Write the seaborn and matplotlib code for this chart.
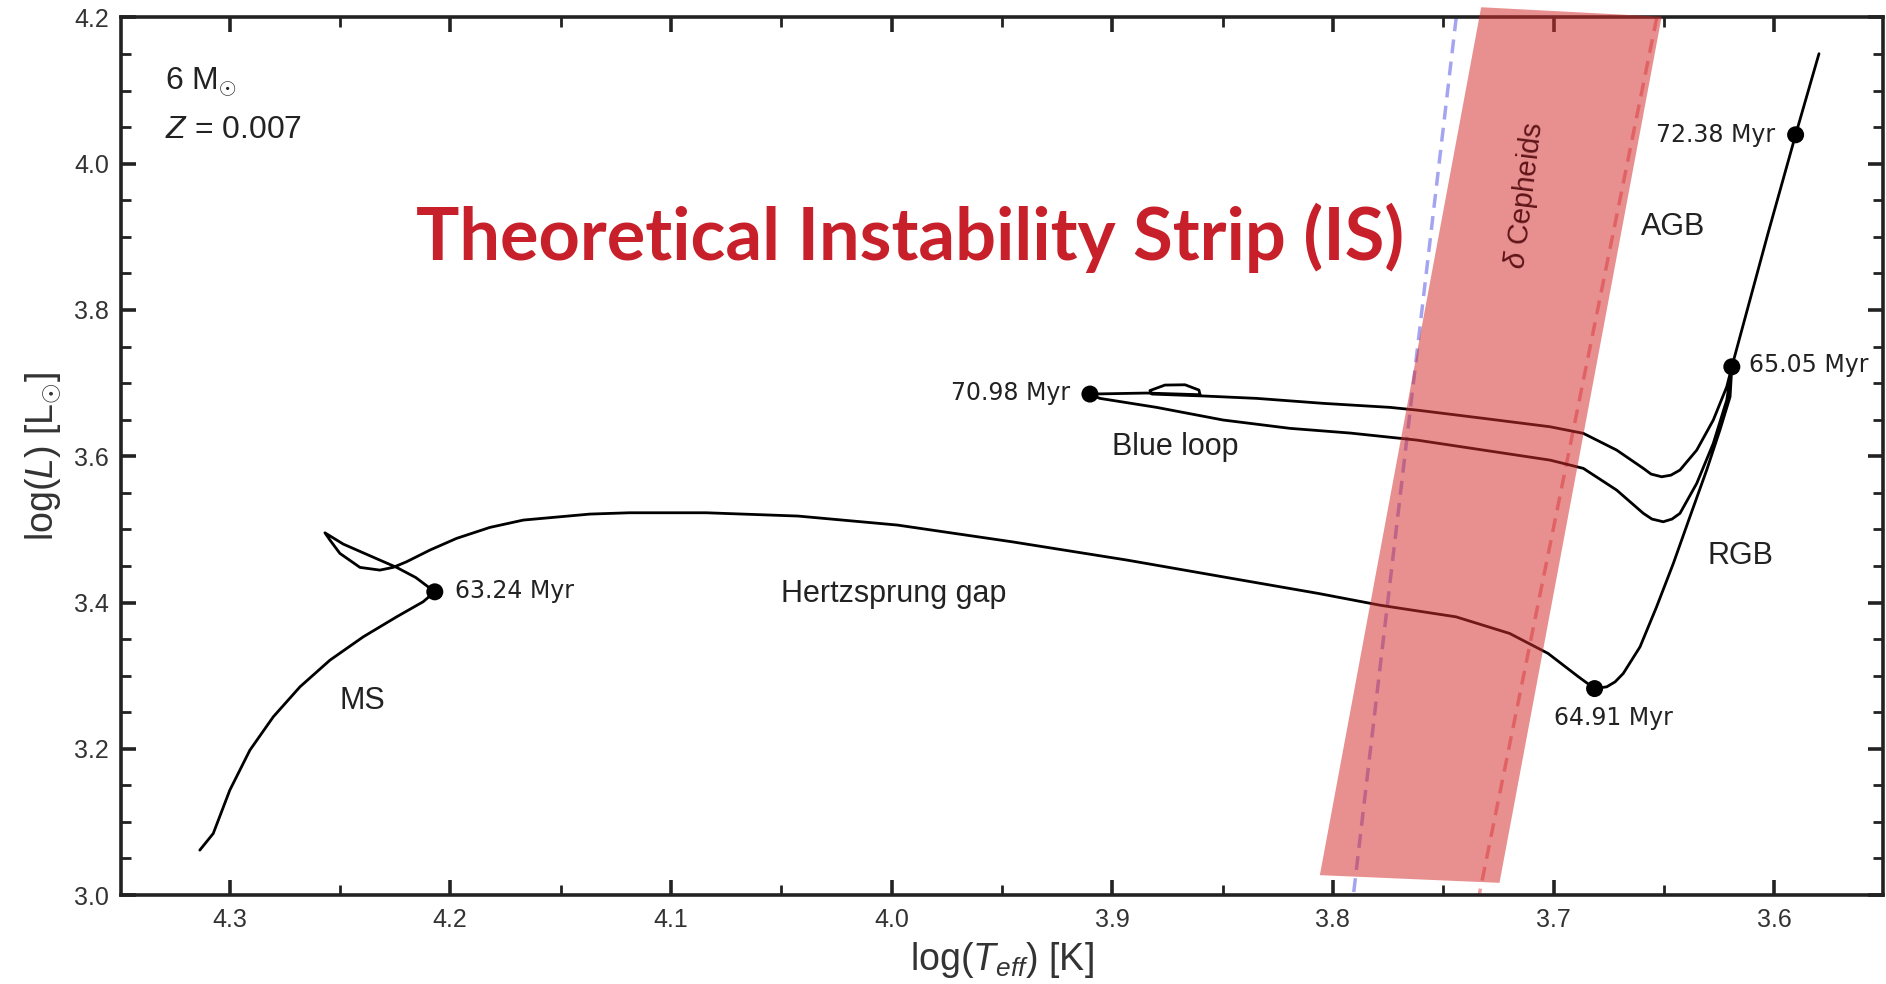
import matplotlib
matplotlib.use("Agg")
import matplotlib.pyplot as plt
import seaborn as sns
import pandas as pd
from matplotlib.ticker import MultipleLocator

# ---------------- data ----------------
track_logT = [
    4.3135, 4.3074, 4.2999, 4.2908, 4.2802, 4.2681, 4.2545, 4.2394, 4.2243, 4.2123, 4.2070,
    4.2156, 4.2243, 4.2364, 4.2485, 4.2568,
    4.2545, 4.2500, 4.2409, 4.2319, 4.2259, 4.2198, 4.2092, 4.1971, 4.1820, 4.1669, 4.1367, 4.1188, 4.0841,
    4.0424, 3.9974, 3.9454, 3.8933, 3.8413, 3.8066, 3.7788, 3.7442, 3.7199, 3.7025, 3.6887, 3.6814,
    3.6759, 3.6721, 3.6684, 3.6608, 3.6533, 3.6457, 3.6382, 3.6306, 3.6246, 3.6200, 3.6192,
    3.6215, 3.6276, 3.6351, 3.6427, 3.6463, 3.6503, 3.6554, 3.6593, 3.6714, 3.6865, 3.7016, 3.7318,
    3.7620, 3.7922, 3.8194, 3.8497, 3.8799, 3.9056, 3.9101,
    3.8844, 3.8602, 3.8607, 3.8670, 3.8761, 3.8829, 3.8820, 3.8580, 3.8345, 3.8044, 3.7741, 3.7620,
    3.7318, 3.7016, 3.6865, 3.6714, 3.6593, 3.6558, 3.6510, 3.6468, 3.6427, 3.6351, 3.6276, 3.6215, 3.6192,
    3.6110, 3.6028, 3.5903, 3.5797,
]
track_logL = [
    3.0614, 3.0842, 3.1434, 3.1981, 3.2437, 3.2847, 3.3212, 3.3531, 3.3804, 3.4010, 3.4146,
    3.4341, 3.4480, 3.4639, 3.4799, 3.4953,
    3.4853, 3.4671, 3.4480, 3.4443, 3.4480, 3.4557, 3.4717, 3.4877, 3.5027, 3.5127, 3.5209, 3.5227, 3.5227,
    3.5182, 3.5059, 3.4830, 3.4580, 3.4306, 3.4124, 3.3964, 3.3804, 3.3577, 3.3304, 3.2984, 3.2823,
    3.2847, 3.2915, 3.3030, 3.3394, 3.3941, 3.4535, 3.5172, 3.5811, 3.6358, 3.6813, 3.7223,
    3.6768, 3.6176, 3.5629, 3.5219, 3.5141, 3.5104, 3.5141, 3.5219, 3.5537, 3.5834, 3.5947, 3.6084,
    3.6221, 3.6317, 3.6381, 3.6495, 3.6668, 3.6791, 3.6850,
    3.6864, 3.6841, 3.6905, 3.6977, 3.6973, 3.6898, 3.6850, 3.6823, 3.6791, 3.6723, 3.6668, 3.6631,
    3.6518, 3.6403, 3.6313, 3.6084, 3.5834, 3.5756, 3.5719, 3.5741, 3.5811, 3.6084, 3.6495, 3.6950, 3.7223,
    3.8136, 3.9048, 4.0395, 4.1504,
]

age_labels = ["63.24 Myr", "64.91 Myr", "65.05 Myr", "70.98 Myr", "72.38 Myr"]
age_logT = [4.2070, 3.6814, 3.6192, 3.9101, 3.5903]
age_logL = [3.4146, 3.2823, 3.7223, 3.6850, 4.0395]

phase_labels = ["MS", "Hertzsprung gap", "Blue loop", "RGB", "AGB"]
phase_logT = [4.240, 3.999, 3.8716, 3.6153, 3.6459]
phase_logL = [3.265, 3.411, 3.612, 3.464, 3.913]

strip_logT = [3.7328, 3.6510, 3.7245, 3.8059]
strip_logL = [4.2139, 4.2010, 3.0167, 3.0272]
blue_edge_logT = [3.7441, 3.7907]
blue_edge_logL = [4.2, 3.0]
red_edge_logT = [3.6532, 3.7337]
red_edge_logL = [4.2, 3.0]

x_ticks = [4.3, 4.2, 4.1, 4.0, 3.9, 3.8, 3.7, 3.6]
y_ticks = [3.0, 3.2, 3.4, 3.6, 3.8, 4.0, 4.2]

# ---------------- style ----------------
sns.set_theme(style="ticks")
plt.rcParams["font.family"] = ["Liberation Sans", "DejaVu Sans"]
plt.rcParams["mathtext.fontset"] = "custom"
plt.rcParams["mathtext.rm"] = "Liberation Sans"
plt.rcParams["mathtext.it"] = "Liberation Sans:italic"
plt.rcParams["mathtext.bf"] = "Liberation Sans:bold"

fig = plt.figure(figsize=(18.86, 9.84), dpi=100)
ax = fig.add_axes([0.0644, 0.0904, 0.9340, 0.8919])

track = pd.DataFrame({"logT": track_logT, "logL": track_logL})
ages = pd.DataFrame({"logT": age_logT, "logL": age_logL, "label": age_labels})

# instability strip edges (below the band)
ax.plot(blue_edge_logT, blue_edge_logL, ls=(0, (4.0, 2.4)), lw=2.5, color="#a4a4f0", zorder=2)
ax.plot(red_edge_logT, red_edge_logL, ls=(0, (4.0, 2.4)), lw=2.5, color="#f0a0a6", zorder=2)

# evolutionary track
sns.lineplot(data=track, x="logT", y="logL", sort=False, estimator=None,
             color="black", lw=2.0, ax=ax, zorder=3, solid_joinstyle="round")
sns.scatterplot(data=ages, x="logT", y="logL", color="black", s=150,
                edgecolor="none", ax=ax, zorder=4)

# instability strip band
ax.fill(strip_logT, strip_logL, color="#d42c2c", alpha=0.53, lw=0, zorder=5, clip_on=False)

# ---------------- texts ----------------
txtc = "#222222"
myr_fs = 17
ax.text(age_logT[0] - 0.009, age_logL[0] + 0.001, age_labels[0], family="DejaVu Sans",
        fontsize=myr_fs, color=txtc, ha="left", va="center", zorder=6)
ax.text(age_logT[1] - 0.0085, age_logL[1] - 0.040, age_labels[1], family="DejaVu Sans",
        fontsize=myr_fs, color=txtc, ha="center", va="center", zorder=6)
ax.text(age_logT[2] - 0.0078, age_logL[2] + 0.003, age_labels[2], family="DejaVu Sans",
        fontsize=myr_fs, color=txtc, ha="left", va="center", zorder=6)
ax.text(age_logT[3] + 0.0092, age_logL[3] + 0.001, age_labels[3], family="DejaVu Sans",
        fontsize=myr_fs, color=txtc, ha="right", va="center", zorder=6)
ax.text(age_logT[4] + 0.0095, age_logL[4], age_labels[4], family="DejaVu Sans",
        fontsize=myr_fs, color=txtc, ha="right", va="center", zorder=6)

for lab, xx, yy in zip(phase_labels, phase_logT, phase_logL):
    ax.text(xx, yy, lab, fontsize=22, color=txtc, ha="center", va="center", zorder=6)

ax.text(0.0246, 0.9266, r"6 M$_{\odot}$", transform=ax.transAxes, fontsize=23,
        color=txtc, ha="left", va="center")
ax.text(0.0246, 0.8718, r"$Z$ = 0.007", transform=ax.transAxes, fontsize=23,
        color=txtc, ha="left", va="center")

ax.text(3.7129, 3.957, r"$\delta$ Cepheids", rotation=83, fontsize=21,
        color="#5e1418", ha="center", va="center", zorder=6)

ax.text(3.9917, 3.898, "Theoretical Instability Strip (IS)", family=["Lato", "DejaVu Sans"],
        fontweight="bold", fontsize=52, color="#c8202a", ha="center", va="center", zorder=7)

# ---------------- axes ----------------
ax.set_xlim(4.349, 3.5507)
ax.set_ylim(3.0, 4.2)
ax.set_xticks(x_ticks)
ax.set_yticks(y_ticks)
ax.set_xticklabels([f"{v:.1f}" for v in x_ticks])
ax.set_yticklabels([f"{v:.1f}" for v in y_ticks])
ax.xaxis.set_minor_locator(MultipleLocator(0.05))
ax.yaxis.set_minor_locator(MultipleLocator(0.05))
ax.tick_params(which="both", direction="in", top=True, right=True, colors="#222222",
               labelcolor="#333333", labelsize=18)
ax.tick_params(which="major", length=11, width=2.6, pad=9)
ax.tick_params(which="minor", length=7, width=2.0)
for sp in ax.spines.values():
    sp.set_linewidth(2.6)
    sp.set_color("#222222")
    sp.set_visible(True)

ax.set_xlabel(r"log($T_{eff}$) [K]", fontsize=27, color="#333333", labelpad=6)
ax.set_ylabel(r"log($L$) [L$_{\odot}$]", fontsize=27, color="#333333", labelpad=8)

fig.savefig("out.png", dpi=100)
